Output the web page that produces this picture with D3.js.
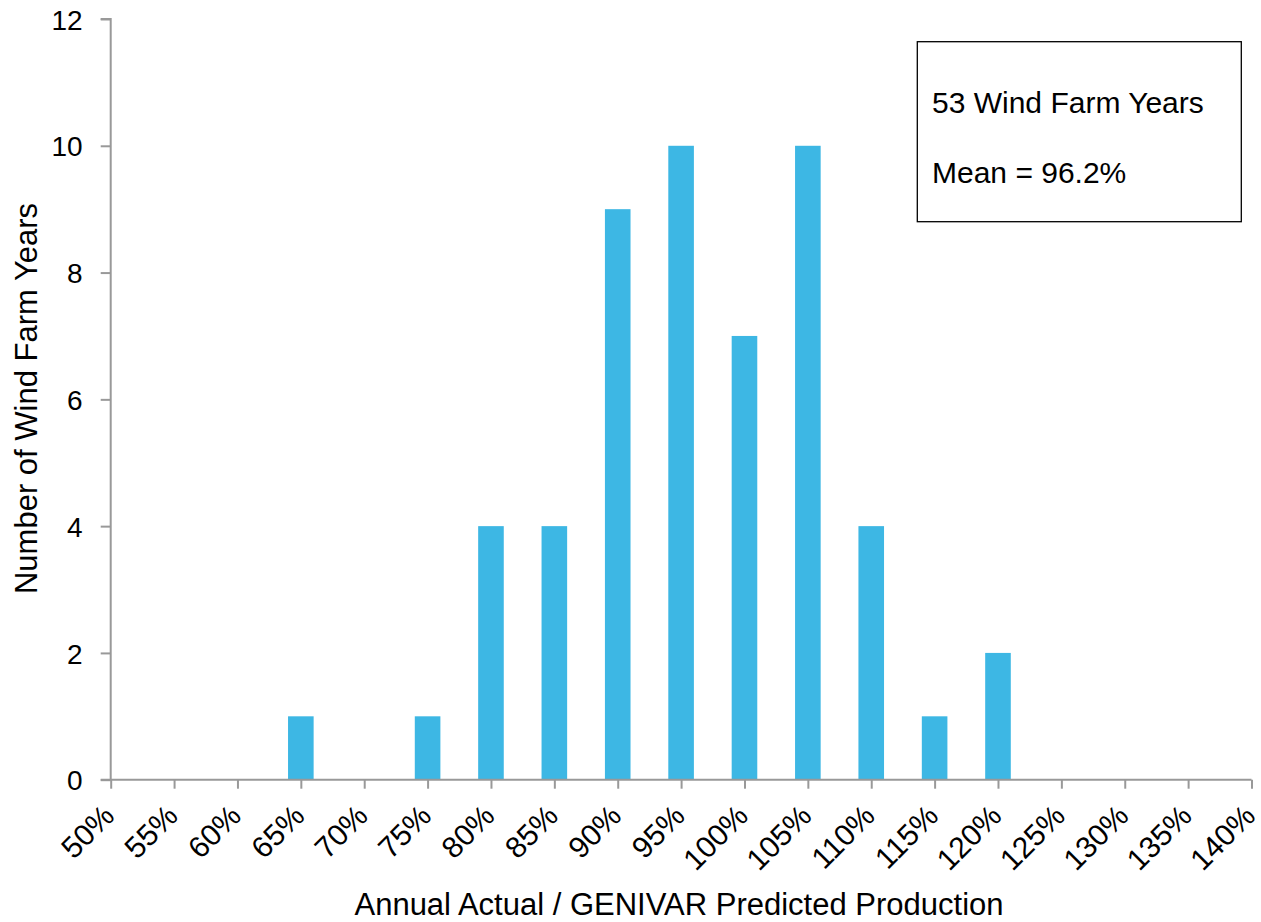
<!DOCTYPE html>
<html>
<head>
<meta charset="utf-8">
<script src="https://cdn.jsdelivr.net/npm/d3@7"></script>
<style>
  html, body { margin: 0; padding: 0; background: #fff; }
  svg { display: block; font-family: "Liberation Sans", Arial, sans-serif; }
</style>
</head>
<body>
<svg id="chart" width="1261" height="922"></svg>
<script>
const categories = [50, 55, 60, 65, 70, 75, 80, 85, 90, 95, 100, 105, 110, 115, 120, 125, 130, 135, 140];
const counts =     [0, 0, 0, 1, 0, 1, 4, 4, 9, 10, 7, 10, 4, 1, 2, 0, 0, 0, 0];
const yTicks = [0, 2, 4, 6, 8, 10, 12];
const infoLines = ["53 Wind Farm Years", "Mean = 96.2%"];
const xTitle = "Annual Actual / GENIVAR  Predicted Production";
const yTitle = "Number of Wind Farm Years";

const svg = d3.select("#chart");
const mLeft = 110.7, mRight = 1251.5, mTop = 19, mBottom = 779.7;
const axisColor = "#999999";
const barColor = "#3DB7E4";
const FONT = "Liberation Sans, Arial, sans-serif";

const x = d3.scaleLinear().domain([50, 140]).range([mLeft, mRight]);
const y = d3.scaleLinear().domain([0, 12]).range([mBottom, mTop]);
const barW = 25.6;

// bars
svg.append("g").selectAll("rect")
  .data(categories.map((c, i) => ({c, v: counts[i]})).filter(d => d.v > 0))
  .join("rect")
  .attr("x", d => x(d.c) - barW / 2)
  .attr("y", d => y(d.v))
  .attr("width", barW)
  .attr("height", d => y(0) - y(d.v))
  .attr("fill", barColor);

// y axis
const yAxis = svg.append("g").attr("transform", `translate(${mLeft},0)`)
  .call(d3.axisLeft(y).tickValues(yTicks).tickSize(10).tickPadding(18).tickFormat(d3.format("d")));
yAxis.select(".domain").attr("stroke", axisColor).attr("stroke-width", 2).attr("d", `M-10,${mTop}H0V${mBottom}`);
yAxis.selectAll(".tick line").attr("stroke", axisColor).attr("stroke-width", 2);
yAxis.selectAll(".tick text").attr("fill", "#000").attr("font-size", 28).attr("font-family", FONT).attr("dy", "0.36em");

// x axis
const xAxis = svg.append("g").attr("transform", `translate(0,${mBottom})`)
  .call(d3.axisBottom(x).tickValues(categories).tickSize(9).tickFormat(d => d + "%"));
xAxis.select(".domain").attr("stroke", axisColor).attr("stroke-width", 2).attr("d", `M${mLeft - 10},0H${mRight}`);
xAxis.selectAll(".tick line").attr("stroke", axisColor).attr("stroke-width", 2);
xAxis.selectAll(".tick text")
  .attr("fill", "#000")
  .attr("font-size", 30)
  .attr("font-family", FONT)
  .attr("text-anchor", "end")
  .attr("y", 0).attr("dy", 0)
  .attr("transform", "translate(5,38) rotate(-45)");

// axis titles
svg.append("text")
  .attr("x", 679).attr("y", 915)
  .attr("text-anchor", "middle").attr("font-size", 31).attr("fill", "#000")
  .text(xTitle);

svg.append("text")
  .attr("transform", `translate(37,398.5) rotate(-90)`)
  .attr("text-anchor", "middle").attr("font-size", 31).attr("fill", "#000")
  .text(yTitle);

// info box
svg.append("rect")
  .attr("x", 917.3).attr("y", 41.7).attr("width", 324).attr("height", 180)
  .attr("fill", "#fff").attr("stroke", "#000").attr("stroke-width", 1.3);
svg.append("g").selectAll("text").data(infoLines).join("text")
  .attr("x", 932).attr("y", (d, i) => 113 + i * 70)
  .attr("font-size", 30).attr("fill", "#000")
  .text(d => d);
</script>
</body>
</html>
